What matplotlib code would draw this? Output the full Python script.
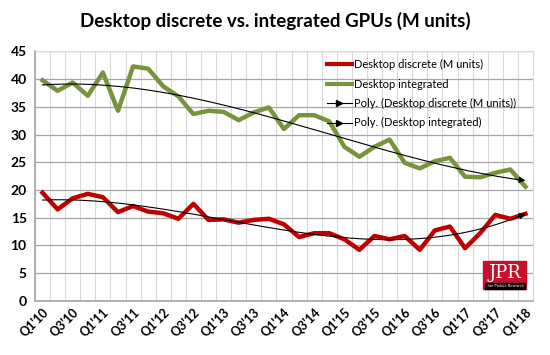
import numpy as np
import matplotlib
matplotlib.use('Agg')
import matplotlib.pyplot as plt
from matplotlib.lines import Line2D
from matplotlib.patches import Rectangle

plt.rcParams['font.family'] = ['Lato', 'DejaVu Sans']

# quarters Q1'10 .. Q1'18
quarters = [f"Q{q}'{y:02d}" for y in range(10, 19) for q in range(1, 5)][:33]
tick_labels = quarters[::2]

discrete = [19.5, 16.5, 18.5, 19.3, 18.7, 16.0, 17.1, 16.1, 15.8, 14.8, 17.5,
            14.6, 14.7, 14.1, 14.6, 14.8, 13.8, 11.5, 12.2, 12.2, 11.1, 9.2,
            11.7, 11.1, 11.7, 9.2, 12.7, 13.4, 9.5, 12.2, 15.5, 14.8, 15.7]
integrated = [39.8, 37.9, 39.4, 37.0, 41.2, 34.3, 42.3, 41.9, 38.7, 36.9, 33.7,
              34.3, 34.1, 32.6, 34.0, 34.9, 31.0, 33.5, 33.5, 32.4, 27.8, 26.0,
              27.8, 29.1, 24.9, 23.9, 25.2, 25.8, 22.4, 22.3, 23.1, 23.7, 20.6]

fig = plt.figure(figsize=(5.5, 3.55), dpi=100)
ax = fig.add_axes([0.0636, 0.1527, 0.9054, 0.7023])

x = np.arange(len(quarters))
ax.plot(x, discrete, color='#C00000', lw=3.2, solid_joinstyle='round', zorder=3)
ax.plot(x, integrated, color='#77933C', lw=3.2, solid_joinstyle='round', zorder=3)

# polynomial trendlines (like Excel's "Poly.")
xs = np.linspace(0, len(x) - 1, 200)
for series in (discrete, integrated):
    coef = np.polyfit(x, series, 3)
    ys = np.polyval(coef, xs)
    ax.plot(xs[:-4], ys[:-4], color='black', lw=0.8, zorder=4)
    ax.annotate('', xy=(xs[-1], ys[-1]), xytext=(xs[-5], ys[-5]),
                arrowprops=dict(arrowstyle='-|>', color='black', lw=0.8,
                                mutation_scale=9, shrinkA=0, shrinkB=0), zorder=4)

ax.set_xlim(-0.5, len(x) - 0.5)
ax.set_ylim(0, 45)
ax.set_yticks(range(0, 46, 5))
ax.set_xticks(x[::2])
ax.set_xticklabels(tick_labels, rotation=45, ha='right', rotation_mode='anchor',
                   fontsize=9, fontweight='bold')
for lbl in ax.get_yticklabels():
    lbl.set_fontsize(10)
    lbl.set_fontweight('bold')
ax.set_xticks(np.arange(-0.5, len(x), 1), minor=True)
ax.tick_params(axis='x', which='both', length=0, pad=4)
ax.tick_params(axis='y', length=0, pad=6)

ax.grid(axis='x', which='minor', color='#D9D9D9', lw=0.8)
ax.grid(axis='y', which='major', color='#A6A6A6', lw=0.9)
ax.set_axisbelow(True)
for side in ['top', 'right']:
    ax.spines[side].set_color('#D9D9D9')
    ax.spines[side].set_linewidth(0.8)
for side in ['left', 'bottom']:
    ax.spines[side].set_color('#A6A6A6')
    ax.spines[side].set_linewidth(1.2)

fig.text(0.5, 0.94, 'Desktop discrete vs. integrated GPUs (M units)',
         ha='center', va='center', fontsize=13.5, fontweight='bold')

handles = [Line2D([], [], color='#C00000', lw=3),
           Line2D([], [], color='#77933C', lw=3),
           Line2D([], [], color='black', lw=0.8, marker='>', markevery=[1], markersize=4),
           Line2D([], [], color='black', lw=0.8, marker='>', markevery=[1], markersize=4)]
labels = ['Desktop discrete (M units)', 'Desktop integrated',
          'Poly. (Desktop discrete (M units))', 'Poly. (Desktop integrated)']
ax.legend(handles, labels, loc='upper left', bbox_to_anchor=(0.57, 1.0),
          frameon=False, fontsize=8, handlelength=2.3, handletextpad=0.2,
          labelspacing=0.75, borderaxespad=0.3)

# JPR logo
fig.patches.append(Rectangle((483 / 550, 1 - 289 / 355), 43 / 550, 28 / 355,
                             transform=fig.transFigure, color='#C8102E', zorder=5))
fig.patches.append(Rectangle((485 / 550, 1 - 289 / 355), 40 / 550, 6 / 355,
                             transform=fig.transFigure, color='black', zorder=6))
fig.text(504.5 / 550, 1 - 273 / 355, 'JPR', ha='center', va='center', color='white',
         fontsize=13, family='DejaVu Serif', zorder=7)
fig.text(505 / 550, 1 - 286 / 355, 'Jon Peddie Research', ha='center', va='center',
         color='white', fontsize=3, zorder=7)

fig.savefig('out.png', dpi=100)
